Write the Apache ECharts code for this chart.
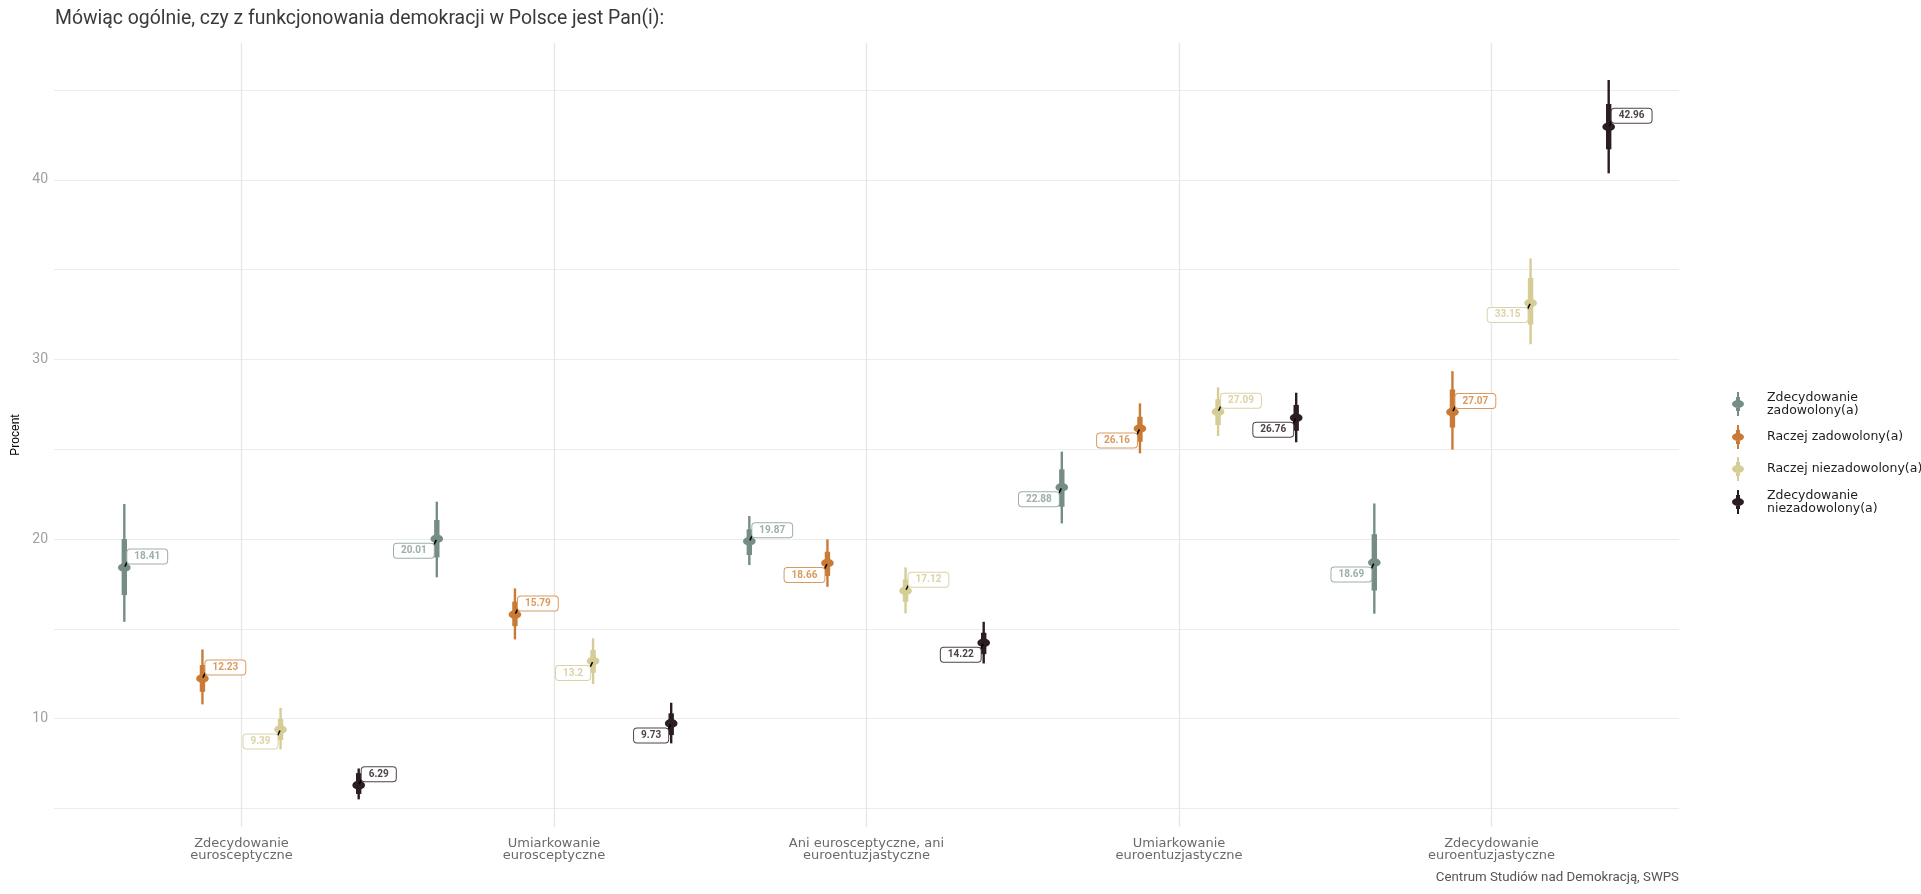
<!DOCTYPE html>
<html>
<head>
<meta charset="utf-8">
<script src="https://cdn.jsdelivr.net/npm/echarts@6/dist/echarts.min.js"></script>
<style>
  html, body { margin: 0; padding: 0; background: #fff; }
  #chart { width: 1921px; height: 894px; }
</style>
</head>
<body>
<div id="chart"></div>
<script>
// Attitude towards the EU (x categories)
const categories = [
  'Zdecydowanie\neurosceptyczne',
  'Umiarkowanie\neurosceptyczne',
  'Ani eurosceptyczne, ani\neuroentuzjastyczne',
  'Umiarkowanie\neuroentuzjastyczne',
  'Zdecydowanie\neuroentuzjastyczne'
];

// Satisfaction with democracy (dodged groups)
const groups = [
  'Zdecydowanie\nzadowolony(a)',
  'Raczej zadowolony(a)',
  'Raczej niezadowolony(a)',
  'Zdecydowanie\nniezadowolony(a)'
];

// Point estimates (%), one array per group, ordered by category
const estZadowolonyZdec   = [18.41, 20.01, 19.87, 22.88, 18.69];
const estZadowolonyRacz   = [12.23, 15.79, 18.66, 26.16, 27.07];
const estNiezadowolonyRacz = [9.39, 13.2, 17.12, 27.09, 33.15];
const estNiezadowolonyZdec = [6.29, 9.73, 14.22, 26.76, 42.96];

// Narrow (inner) interval bounds
const innerLo = [
  [16.88, 18.98, 19.11, 21.80, 17.13],
  [11.49, 15.15, 17.94, 25.42, 26.21],
  [8.80, 12.55, 16.51, 26.35, 31.95],
  [5.80, 9.08, 13.59, 26.03, 41.71]
];
const innerHi = [
  [20.00, 21.06, 20.54, 23.88, 20.27],
  [12.98, 16.51, 19.29, 26.81, 28.33],
  [9.97, 13.82, 17.75, 27.78, 34.54],
  [6.96, 10.29, 14.78, 27.47, 44.23]
];

// Wide (outer) interval bounds
const outerLo = [
  [15.39, 17.87, 18.55, 20.87, 15.84],
  [10.79, 14.41, 17.34, 24.77, 24.98],
  [8.28, 11.92, 15.86, 25.74, 30.85],
  [5.50, 8.62, 13.07, 25.39, 40.37]
];
const outerHi = [
  [21.95, 22.08, 21.28, 24.87, 21.98],
  [13.85, 17.25, 19.98, 27.56, 29.35],
  [10.60, 14.47, 18.42, 28.45, 35.63],
  [7.22, 10.88, 15.39, 28.15, 45.57]
];

// Y axis ticks
const yLabelTicks = [10, 20, 30, 40];
const yGridTicks = [5, 10, 15, 20, 25, 30, 35, 40, 45];

const estimates = [estZadowolonyZdec, estZadowolonyRacz, estNiezadowolonyRacz, estNiezadowolonyZdec];

// ---- styling / layout ----
const palette = ['#768d85', '#c97b36', '#d5cc96', '#2b1d20'];
const labelInk = ['#9dafa8', '#d99a60', '#dbd3a6', '#4d4446'];
const dodge = [-0.375, -0.125, 0.125, 0.375];
// which side of its point each value label sits on (r = up-right, l = down-left)
const labelSide = [
  ['r', 'l', 'r', 'l', 'l'],
  ['r', 'r', 'l', 'l', 'r'],
  ['l', 'l', 'r', 'r', 'l'],
  ['r', 'l', 'l', 'l', 'r']
];

const legendIcon = 'path://M5 0 H7 V24 H5 Z M4 5 H8 V19 H4 Z M0 12 A6 4 0 1 1 12 12 A6 4 0 1 1 0 12 Z';

function makeSeries(gi) {
  const data = estimates[gi].map((v, ci) => [
    ci + 1 + dodge[gi], v, innerLo[gi][ci], innerHi[gi][ci], outerLo[gi][ci], outerHi[gi][ci]
  ]);
  return {
    type: 'custom',
    name: groups[gi],
    itemStyle: { color: palette[gi] },
    data: data,
    z: 10,
    renderItem: function (params, api) {
      const x = api.value(0);
      const v = api.value(1);
      const p = api.coord([x, v]);
      const il = api.coord([x, api.value(2)]);
      const ih = api.coord([x, api.value(3)]);
      const ol = api.coord([x, api.value(4)]);
      const oh = api.coord([x, api.value(5)]);
      const side = labelSide[gi][params.dataIndex];
      const right = side === 'r';
      const c = palette[gi];
      return {
        type: 'group',
        children: [
          { type: 'line', shape: { x1: p[0], y1: oh[1], x2: p[0], y2: ol[1] },
            style: { stroke: c, lineWidth: 2.4 } },
          { type: 'line', shape: { x1: p[0], y1: ih[1], x2: p[0], y2: il[1] },
            style: { stroke: c, lineWidth: 5.4 } },
          { type: 'ellipse', shape: { cx: p[0], cy: p[1], rx: 6.3, ry: 4.3 },
            style: { fill: c } },
          { type: 'line',
            shape: right
              ? { x1: p[0] + 0.5, y1: p[1] - 1, x2: p[0] + 3.5, y2: p[1] - 7 }
              : { x1: p[0] - 0.5, y1: p[1] + 1, x2: p[0] - 3.5, y2: p[1] + 7 },
            style: { stroke: '#000', lineWidth: 1.6 } },
          { type: 'text',
            x: right ? p[0] + 3 : p[0] - 3,
            y: right ? p[1] - 11 : p[1] + 12,
            style: {
              text: String(estimates[gi][params.dataIndex]),
              fill: labelInk[gi],
              font: 'bold 10px Roboto, sans-serif',
              align: right ? 'left' : 'right',
              verticalAlign: 'middle',
              backgroundColor: '#fff',
              borderColor: labelInk[gi],
              borderWidth: 1,
              borderRadius: 3,
              padding: [2, 7, 2, 7]
            } }
        ]
      };
    }
  };
}

const chart = echarts.init(document.getElementById('chart'));
chart.setOption({
  animation: false,
  backgroundColor: '#ffffff',
  title: [
    {
      text: 'Mówiąc ogólnie, czy z funkcjonowania demokracji w Polsce jest Pan(i):',
      left: 50, top: 5,
      textStyle: { fontFamily: 'Roboto, sans-serif', fontSize: 19.4, fontWeight: 'normal', color: '#3a3a3a' }
    },
    {
      text: 'Centrum Studiów nad Demokracją, SWPS',
      right: 242, top: 871,
      padding: 0,
      textStyle: { fontFamily: 'Roboto, sans-serif', fontSize: 13.3, fontWeight: 'normal', color: '#555' }
    }
  ],
  legend: {
    orient: 'vertical',
    left: 1727, top: 386,
    itemWidth: 12, itemHeight: 24, itemGap: 8,
    icon: legendIcon,
    data: groups,
    textStyle: {
      fontFamily: '"DejaVu Sans", sans-serif', fontSize: 12.5, color: '#1e1e1e',
      fontWeight: 500, lineHeight: 13, padding: [0, 0, 0, 18]
    }
  },
  grid: { left: 54, right: 242, top: 43, bottom: 67, outerBoundsMode: 'none' },
  xAxis: {
    type: 'value', min: 0.4, max: 5.6,
    axisLine: { show: false },
    axisTick: { show: false, customValues: [1, 2, 3, 4, 5] },
    splitLine: { show: true, lineStyle: { color: '#e6e6e6', width: 1.3 } },
    axisLabel: {
      customValues: [1, 2, 3, 4, 5],
      formatter: v => categories[Math.round(v) - 1],
      fontFamily: '"DejaVu Sans", sans-serif', fontSize: 13, lineHeight: 12.5,
      color: '#6a6a6a', margin: 10
    }
  },
  yAxis: {
    type: 'value', min: 3.96, max: 47.63,
    name: 'Procent', nameLocation: 'middle', nameRotate: 90, nameGap: 30,
    nameTextStyle: { fontFamily: '"Liberation Sans Narrow", "Arial Narrow", sans-serif', fontSize: 12, color: '#000' },
    axisLine: { show: false },
    axisTick: { show: false, customValues: yGridTicks },
    splitLine: { show: true, lineStyle: { color: '#ececec', width: 1 } },
    axisLabel: {
      customValues: yLabelTicks,
      fontFamily: 'Roboto, sans-serif', fontSize: 14, color: '#a0a0a0', margin: 6
    }
  },
  series: [0, 1, 2, 3].map(makeSeries)
});
</script>
</body>
</html>
